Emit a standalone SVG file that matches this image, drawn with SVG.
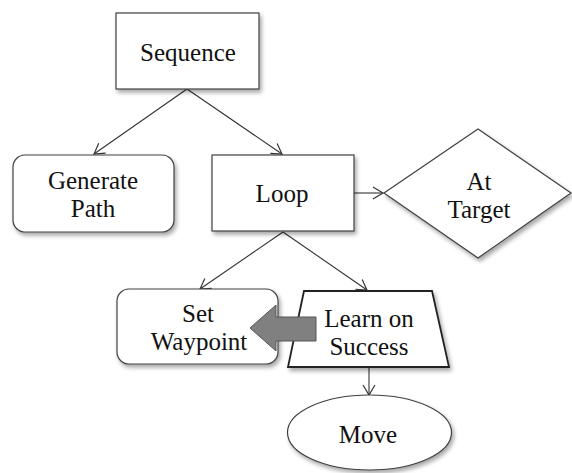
<svg xmlns="http://www.w3.org/2000/svg" width="572" height="473" viewBox="0 0 572 473">
<defs>
<filter id="sh" x="-10%" y="-10%" width="130%" height="140%">
<feDropShadow dx="2" dy="3" stdDeviation="2" flood-color="#000" flood-opacity="0.35"/>
</filter>
<marker id="ah" markerUnits="userSpaceOnUse" markerWidth="14" markerHeight="14" refX="11" refY="7" orient="auto">
<path d="M1,1 L11,7 L1,13" fill="none" stroke="#333" stroke-width="1.2"/>
</marker>
</defs>
<g id="connectors" fill="none" stroke="#333" stroke-width="1.1" marker-end="url(#ah)">
<line x1="187" y1="89" x2="94" y2="154"/>
<line x1="187" y1="89" x2="282" y2="154"/>
<line x1="354" y1="193" x2="383" y2="193"/>
<line x1="283" y1="232" x2="200" y2="289"/>
<line x1="283" y1="232" x2="367" y2="290"/>
<line x1="369" y1="367" x2="369" y2="395"/>
</g>
<g id="shapes" fill="#fff" stroke="#404040" stroke-width="1.2" filter="url(#sh)">
<rect id="sequence" x="116" y="13" width="143" height="76"/>
<rect id="generate-path" x="13" y="155" width="161" height="77" rx="12"/>
<rect id="loop" x="212" y="155" width="142" height="76"/>
<polygon id="at-target" points="478,129 571,193 478,258 384,193"/>
<rect id="set-waypoint" x="117" y="289" width="161" height="75" rx="12"/>
<polygon id="learn-on-success" points="304,291 432,291 449,367 288,367" stroke="#222" stroke-width="1.8"/>
<ellipse id="move" cx="369.5" cy="432.5" rx="82" ry="37.5"/>
</g>
<g id="block-arrow">
<polygon points="316,317 276,317 276,305 250,328 276,351 276,341 316,341" fill="#808080" stroke="#555" stroke-width="1"/>
</g>
<g id="labels" style="font-family:'Liberation Serif','Times New Roman',serif;font-size:25px" fill="#111" text-anchor="middle">
<text x="188" y="61">Sequence</text>
<text x="93" y="189">Generate</text>
<text x="93" y="217">Path</text>
<text x="282" y="202">Loop</text>
<text x="479" y="190">At</text>
<text x="479" y="218">Target</text>
<text x="198" y="322">Set</text>
<text x="199" y="350">Waypoint</text>
<text x="369" y="327">Learn on</text>
<text x="369" y="355">Success</text>
<text x="368" y="443">Move</text>
</g>
</svg>
